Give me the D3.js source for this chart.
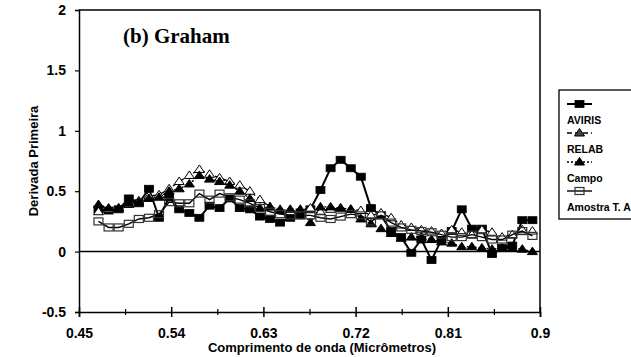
<!DOCTYPE html>
<html>
<head>
<meta charset="utf-8">
<script src="https://cdn.jsdelivr.net/npm/d3@7"></script>
<style>
  html, body { margin: 0; padding: 0; background: #fff; }
  svg { display: block; }
</style>
</head>
<body>
<svg id="chart" width="631" height="357"></svg>
<script>
// ---------- data ----------
const wavelength = [0.4690,0.4789,0.4887,0.4986,0.5084,0.5183,0.5281,0.5380,0.5478,0.5577,
  0.5675,0.5774,0.5872,0.5971,0.6069,0.6168,0.6266,0.6365,0.6463,0.6562,
  0.6660,0.6759,0.6857,0.6956,0.7054,0.7153,0.7251,0.7350,0.7448,0.7547,
  0.7645,0.7744,0.7842,0.7941,0.8039,0.8138,0.8236,0.8335,0.8433,0.8532,
  0.8630,0.8729,0.8827,0.8926];
const aviris = [0.35,0.34,0.35,0.44,0.40,0.52,0.28,0.45,0.35,0.32,0.28,0.38,0.36,0.44,0.36,0.35,0.29,0.27,0.24,0.28,0.30,0.35,0.51,0.69,0.76,0.69,0.62,0.36,0.30,0.17,0.12,-0.01,0.10,-0.07,0.10,0.17,0.35,0.19,0.19,-0.02,0.03,0.05,0.26,0.26];
const relab = [0.33,0.35,0.36,0.39,0.42,0.46,0.47,0.52,0.58,0.63,0.68,0.64,0.61,0.58,0.55,0.50,0.43,0.37,0.35,0.33,0.34,0.36,0.33,0.35,0.36,0.35,0.34,0.30,0.32,0.28,0.22,0.20,0.18,0.17,0.15,0.18,0.16,0.14,0.18,0.16,0.12,0.14,0.18,0.17];
const campo = [0.39,0.36,0.36,0.40,0.41,0.44,0.45,0.50,0.52,0.56,0.63,0.60,0.58,0.55,0.50,0.44,0.36,0.37,0.34,0.35,0.35,0.24,0.37,0.37,0.36,0.35,0.27,0.23,0.19,0.15,0.11,0.12,0.12,0.10,0.08,0.07,0.04,0.04,0.03,0.02,0.03,0.03,0.02,0.00];
const amostra = [0.25,0.20,0.20,0.23,0.27,0.28,0.31,0.41,0.40,0.40,0.48,0.43,0.48,0.45,0.43,0.40,0.36,0.33,0.31,0.30,0.30,0.30,0.28,0.27,0.29,0.31,0.30,0.25,0.30,0.24,0.20,0.18,0.17,0.16,0.14,0.12,0.12,0.14,0.12,0.10,0.10,0.14,0.17,0.13];
const seriesNames = ["AVIRIS", "RELAB", "Campo", "Amostra T. A"];
const xTicks = [0.45, 0.54, 0.63, 0.72, 0.81, 0.9];
const xMinorTicks = [0.495, 0.585, 0.675, 0.765, 0.855];
const yTicks = [-0.5, 0, 0.5, 1, 1.5, 2];
const titleText = "(b) Graham";
const xTitle = "Comprimento de onda (Micrômetros)";
const yTitle = "Derivada Primeira";

// ---------- styles per series ----------
const styles = [
  { values: aviris,  dash: null,  width: 2,   marker: "sq",  fill: "#000" },
  { values: relab,   dash: "5,3", width: 1.4, marker: "tri", fill: "#fff" },
  { values: campo,   dash: "2,2", width: 1.4, marker: "tri", fill: "#000" },
  { values: amostra, dash: null,  width: 1.4, marker: "sq",  fill: "none" }
];

const svg = d3.select("#chart");
const L = 79, R = 540, T = 10, B = 312;
const x = d3.scaleLinear().domain([0.45, 0.9]).range([L, R]);
const y = d3.scaleLinear().domain([-0.5, 2]).range([B, T]);

const SANS = "'Liberation Sans', Arial, sans-serif";
const SERIF = "'Liberation Serif', 'Times New Roman', serif";

// frame (top + right)
svg.append("path")
  .attr("d", `M${L},${T}H${R}V${B}`)
  .attr("fill", "none").attr("stroke", "#000").attr("stroke-width", 1.5);

// zero line
svg.append("line")
  .attr("x1", L).attr("x2", R).attr("y1", y(0)).attr("y2", y(0))
  .attr("stroke", "#000").attr("stroke-width", 1.5);

// y axis
const yAxis = svg.append("g").attr("transform", `translate(${L},0)`)
  .call(d3.axisLeft(y).tickValues(yTicks).tickSize(4).tickPadding(9)
        .tickFormat(d => String(d)));
yAxis.select(".domain").attr("stroke-width", 1.5);
yAxis.selectAll("line").attr("stroke-width", 1.2);
yAxis.selectAll("text").attr("font-family", SANS).attr("font-size", 14)
  .attr("font-weight", "bold").attr("fill", "#000");

// x axis
const xAxis = svg.append("g").attr("transform", `translate(0,${B})`)
  .call(d3.axisBottom(x).tickValues(xTicks).tickSize(5).tickPadding(11)
        .tickFormat(d => String(d)));
xAxis.select(".domain").attr("stroke-width", 1.5);
xAxis.selectAll(".tick line").attr("y1", -5).attr("y2", 5).attr("stroke-width", 1.5);
xAxis.selectAll("text").attr("font-family", SANS).attr("font-size", 14)
  .attr("font-weight", "bold").attr("fill", "#000");

const xMinor = svg.append("g").attr("transform", `translate(0,${B})`)
  .call(d3.axisBottom(x).tickValues(xMinorTicks).tickSize(3).tickFormat(""));
xMinor.select(".domain").remove();
xMinor.selectAll(".tick line").attr("y1", -3).attr("y2", 3).attr("stroke-width", 1.2);

// axis titles
svg.append("text").attr("x", 322).attr("y", 352).attr("text-anchor", "middle")
  .attr("font-family", SANS).attr("font-size", 13).attr("font-weight", "bold")
  .text(xTitle);
svg.append("text").attr("transform", "translate(38,161) rotate(-90)")
  .attr("text-anchor", "middle")
  .attr("font-family", SANS).attr("font-size", 13).attr("font-weight", "bold")
  .text(yTitle);

// chart title
svg.append("text").attr("x", 123).attr("y", 43)
  .attr("font-family", SERIF).attr("font-size", 21).attr("font-weight", "bold")
  .text(titleText);

// markers
function drawMarker(g, type, fill, cx, cy) {
  if (type === "sq") {
    g.append("rect").attr("x", cx - 4.5).attr("y", cy - 3.5).attr("width", 9).attr("height", 7)
      .attr("fill", fill).attr("stroke", fill === "none" ? "#333" : "#000")
      .attr("stroke-width", fill === "none" ? 1.2 : 0.8);
  } else {
    g.append("path")
      .attr("d", `M${cx},${cy - 4.5}L${cx + 5},${cy + 3}L${cx - 5},${cy + 3}Z`)
      .attr("fill", fill).attr("stroke", "#000").attr("stroke-width", 1);
  }
}

const line = d3.line().x(d => x(d[0])).y(d => y(d[1]));
const plot = svg.append("g");
styles.forEach(s => {
  const pts = wavelength.map((w, i) => [w, s.values[i]]);
  plot.append("path").datum(pts).attr("d", line)
    .attr("fill", "none").attr("stroke", "#000").attr("stroke-width", s.width)
    .attr("stroke-dasharray", s.dash);
  const mg = plot.append("g");
  pts.forEach(p => drawMarker(mg, s.marker, s.fill, x(p[0]), y(p[1])));
});

// legend
const lg = svg.append("g");
lg.append("rect").attr("x", 559).attr("y", 90).attr("width", 90).attr("height", 129)
  .attr("fill", "#fff").attr("stroke", "#000").attr("stroke-width", 1.3);
seriesNames.forEach((name, i) => {
  const s = styles[i];
  const sy = 104 + i * 29;
  lg.append("line").attr("x1", 567).attr("x2", 592).attr("y1", sy).attr("y2", sy)
    .attr("stroke", "#000").attr("stroke-width", s.width).attr("stroke-dasharray", s.dash);
  drawMarker(lg, s.marker, s.fill === "#fff" ? "#444" : s.fill, 579.5, sy);
  lg.append("text").attr("x", 567).attr("y", sy + 20)
    .attr("font-family", SANS).attr("font-size", 10.5).attr("font-weight", "bold")
    .text(name);
});
</script>
</body>
</html>
